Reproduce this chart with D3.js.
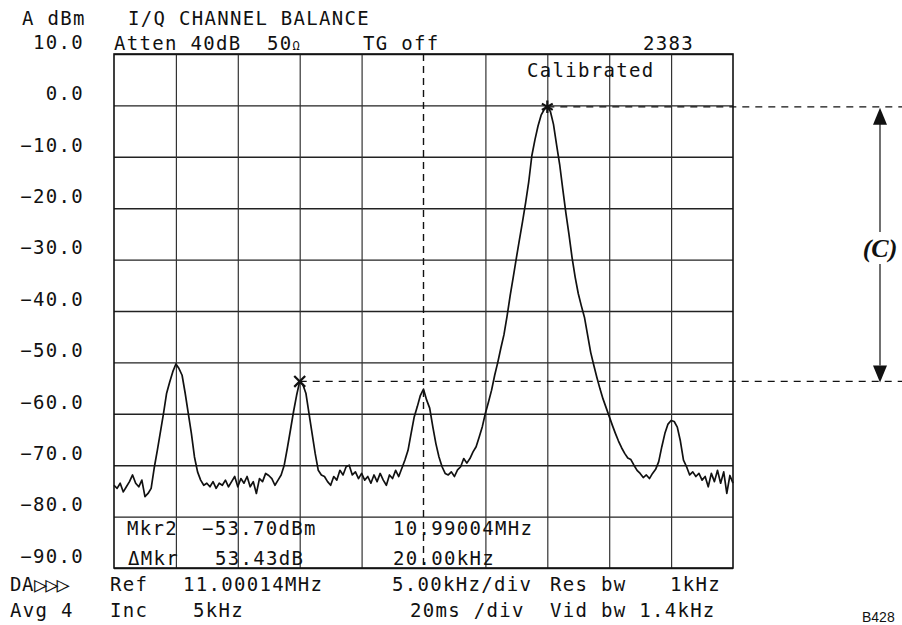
<!DOCTYPE html>
<html>
<head>
<meta charset="utf-8">
<script src="https://cdn.jsdelivr.net/npm/d3@7"></script>
<style>
  html, body { margin: 0; padding: 0; background: #fff; }
  svg { display: block; }
  .lbl { font-family: "DejaVu Sans Mono", monospace; font-size: 19px; letter-spacing: 1.3px; fill: #111; }
</style>
</head>
<body>
<svg id="chart" width="902" height="625"></svg>
<script>
// Sweep: 201 points, 0.25 kHz apart, offsets from the 11.00004 MHz centre (5 kHz/div)
const sweepStartKHz = -25;
const sweepStepKHz = 0.25;

// Measured level at each sweep point, dBm
const traceDbm = [
  -73.9, -74.5, -73.5, -75.2, -74.2, -73.2, -71.9, -73.5, -74.2, -72.9,
  -76.1, -75.5, -74.5, -70.5, -67.1, -63.5, -59.9, -56.0, -53.8, -51.8,
  -50.3, -51.2, -52.5, -56.0, -59.9, -63.8, -68.4, -71.3, -72.9, -73.9,
  -73.5, -74.2, -73.2, -74.5, -73.5, -73.9, -72.9, -74.2, -73.2, -72.2,
  -74.2, -72.6, -73.5, -72.2, -74.2, -73.2, -75.5, -72.6, -73.2, -71.6,
  -72.0, -72.6, -73.9, -72.9, -71.9, -70.0, -66.7, -63.2, -59.6, -56.4,
  -53.7, -54.3, -56.0, -59.9, -63.8, -67.7, -71.0, -71.9, -72.2, -73.2,
  -73.9, -72.2, -72.9, -71.0, -71.9, -70.3, -70.0, -71.9, -71.3, -72.6,
  -71.6, -72.9, -72.2, -73.5, -71.9, -73.2, -71.6, -72.9, -73.9, -71.9,
  -72.6, -71.0, -72.2, -70.6, -69.0, -67.1, -63.8, -60.6, -58.6, -56.4,
  -55.2, -57.3, -58.9, -62.5, -65.8, -68.4, -70.3, -71.6, -71.9, -71.3,
  -72.2, -70.9, -70.3, -68.7, -69.6, -68.7, -67.4, -66.4, -64.5, -62.5,
  -59.9, -57.7, -55.4, -52.5, -50.0, -47.2, -44.6, -41.0, -37.0, -33.4,
  -29.7, -26.1, -22.6, -18.9, -14.9, -9.8, -6.7, -4.0, -1.9, -0.8,
  -0.27, -1.2, -3.7, -7.7, -11.5, -16.3, -20.9, -25.1, -29.6, -33.4,
  -36.6, -39.0, -41.2, -44.6, -48.0, -50.5, -52.9, -55.1, -57.1, -58.8,
  -60.5, -62.2, -63.8, -65.3, -66.6, -67.7, -68.6, -68.9, -70.0, -71.0,
  -71.6, -72.4, -71.9, -72.6, -71.6, -70.8, -69.3, -66.4, -63.8, -62.0,
  -61.3, -61.5, -62.6, -65.3, -69.0, -70.3, -71.9, -71.3, -72.2, -71.6,
  -72.9, -72.2, -74.2, -71.6, -73.2, -71.0, -73.5, -71.3, -75.5, -72.0,
  -73.5
];

// Amplitude scale ticks (dBm) and frequency divisions (kHz)
const levelTicks = [10, 0, -10, -20, -30, -40, -50, -60, -70, -80, -90];
const freqDivs = [-20, -15, -10, -5, 5, 10, 15, 20];

// Marker positions on the sweep (kHz offset)
const marker1KHz = 10;
const marker2KHz = -10;

const svg = d3.select("#chart");
const plotL = 114, plotR = 733, plotT = 54, plotB = 568;

const x = d3.scaleLinear().domain([-25, 25]).range([plotL, plotR]);
const y = d3.scaleLinear().domain([-90, 10]).range([plotB, plotT]);

const points = traceDbm.map((v, i) => ({ f: sweepStartKHz + i * sweepStepKHz, v }));
const pointAt = f => points.find(p => Math.abs(p.f - f) < 1e-9);

const ink = "#111";

// Graticule: horizontal lines from the level axis
svg.append("g")
  .attr("transform", `translate(${plotL},0)`)
  .call(d3.axisLeft(y).tickValues(levelTicks).tickSize(-(plotR - plotL)).tickFormat(""))
  .call(g => g.select(".domain").remove())
  .call(g => g.selectAll(".tick line").attr("stroke", "#222").attr("stroke-width", 1.4));

// Graticule: vertical division lines
svg.append("g")
  .attr("transform", `translate(0,${plotB})`)
  .call(d3.axisBottom(x).tickValues(freqDivs).tickSize(-(plotB - plotT)).tickFormat(""))
  .call(g => g.select(".domain").remove())
  .call(g => g.selectAll(".tick line").attr("stroke", "#333").attr("stroke-width", 1.2));

// Centre-frequency line, dashed
svg.append("line")
  .attr("x1", x(0)).attr("x2", x(0)).attr("y1", plotT).attr("y2", plotB)
  .attr("stroke", ink).attr("stroke-width", 1.4).attr("stroke-dasharray", "7,5");

// Frame
svg.append("rect")
  .attr("x", plotL).attr("y", plotT).attr("width", plotR - plotL).attr("height", plotB - plotT)
  .attr("fill", "none").attr("stroke", ink).attr("stroke-width", 1.6);

// Level labels, sitting just above their lines
svg.append("g")
  .attr("transform", `translate(${plotL},0)`)
  .call(d3.axisLeft(y).tickValues(levelTicks).tickSize(0).tickPadding(30)
    .tickFormat(d => d3.format(".1f")(d).replace("-", "\u2212")))
  .call(g => g.select(".domain").remove())
  .call(g => g.attr("font-family", null).attr("font-size", null))
  .call(g => g.selectAll("text")
    .attr("class", "lbl").attr("dy", "-0.3em").attr("fill", null));

// Trace
const line = d3.line().x(d => x(d.f)).y(d => y(d.v));
svg.append("path")
  .datum(points)
  .attr("d", line)
  .attr("fill", "none").attr("stroke", ink).attr("stroke-width", 1.7)
  .attr("stroke-linejoin", "round");

const m1 = pointAt(marker1KHz);
const m2 = pointAt(marker2KHz);

// Reference dashes from the two markers out to the (C) span
const arrowX = 880;
svg.append("line")
  .attr("x1", x(m1.f)).attr("x2", 902).attr("y1", y(m1.v)).attr("y2", y(m1.v))
  .attr("stroke", ink).attr("stroke-width", 1.3).attr("stroke-dasharray", "7,6");
svg.append("line")
  .attr("x1", x(m2.f)).attr("x2", 902).attr("y1", y(m2.v)).attr("y2", y(m2.v))
  .attr("stroke", ink).attr("stroke-width", 1.3).attr("stroke-dasharray", "7,6");

// Markers
svg.append("path")
  .attr("transform", `translate(${x(m1.f)},${y(m1.v)})`)
  .attr("d", d3.symbol(d3.symbolAsterisk, 110)())
  .attr("fill", "none").attr("stroke", ink).attr("stroke-width", 2.2);
svg.append("path")
  .attr("transform", `translate(${x(m2.f)},${y(m2.v)})`)
  .attr("d", d3.symbol(d3.symbolTimes, 80)())
  .attr("fill", "none").attr("stroke", ink).attr("stroke-width", 2.2);

// (C) span arrow between the two levels
const yA = y(m1.v), yB = y(m2.v);
const labelY = 248;
svg.append("line").attr("x1", arrowX).attr("x2", arrowX).attr("y1", yA + 16).attr("y2", labelY - 16)
  .attr("stroke", ink).attr("stroke-width", 1.2);
svg.append("line").attr("x1", arrowX).attr("x2", arrowX).attr("y1", labelY + 16).attr("y2", yB - 16)
  .attr("stroke", ink).attr("stroke-width", 1.2);
svg.append("path")
  .attr("d", `M${arrowX},${yA + 1} L${arrowX - 7},${yA + 18} L${arrowX + 7},${yA + 18} Z`)
  .attr("fill", ink);
svg.append("path")
  .attr("d", `M${arrowX},${yB + 1} L${arrowX - 7},${yB - 16} L${arrowX + 7},${yB - 16} Z`)
  .attr("fill", ink);
svg.append("text")
  .attr("x", arrowX).attr("y", labelY + 9).attr("text-anchor", "middle")
  .attr("font-family", "'Liberation Serif', serif").attr("font-style", "italic")
  .attr("font-weight", "bold").attr("font-size", 26).attr("fill", ink)
  .text("(C)");

// Annotation text of the analyser screen
const fmt2 = d3.format(".2f");
const minus = s => s.replace("-", "\u2212");
const texts = [
  ["A dBm", 22, 25],
  ["I/Q CHANNEL BALANCE", 128, 25],
  ["Atten 40dB", 114, 50],
  ["TG off", 363, 50],
  ["2383", 643, 50],
  ["Calibrated", 527, 77],
  ["Mkr2", 127, 535],
  [minus(fmt2(m2.v)) + "dBm", 202, 535],
  ["10.99004MHz", 393, 535],
  ["\u0394Mkr", 128, 565],
  [fmt2(m1.v - m2.v) + "dB", 215, 565],
  ["20.00kHz", 393, 565],
  ["Ref", 110, 591],
  ["11.00014MHz", 183, 591],
  ["5.00kHz/div", 392, 591],
  ["Res bw", 550, 591],
  ["1kHz", 670, 591],
  ["Avg 4", 10, 617],
  ["Inc", 110, 617],
  ["5kHz", 193, 617],
  ["20ms /div", 410, 617],
  ["Vid bw 1.4kHz", 550, 617]
];
svg.append("g").selectAll("text").data(texts).join("text")
  .attr("class", "lbl")
  .attr("x", d => d[1]).attr("y", d => d[2])
  .text(d => d[0]);

// Trace-state flags: two letters and three outline triangles
const flags = svg.append("text").attr("class", "lbl").attr("x", 10).attr("y", 591);
flags.append("tspan").attr("letter-spacing", 0.5).text("DA");
flags.append("tspan").attr("font-size", 22).attr("letter-spacing", -2).attr("dy", 1).text("\u25B7\u25B7\u25B7");

// Input impedance with small ohm sign
const imp = svg.append("text").attr("class", "lbl").attr("x", 267).attr("y", 50);
imp.append("tspan").text("50");
imp.append("tspan").attr("font-size", 12).attr("letter-spacing", 0).text("\u03A9");

// Figure code
svg.append("text")
  .attr("x", 862).attr("y", 622)
  .attr("font-family", "'Liberation Sans', Arial, sans-serif").attr("font-size", 14)
  .attr("fill", ink).text("B428");
</script>
</body>
</html>
